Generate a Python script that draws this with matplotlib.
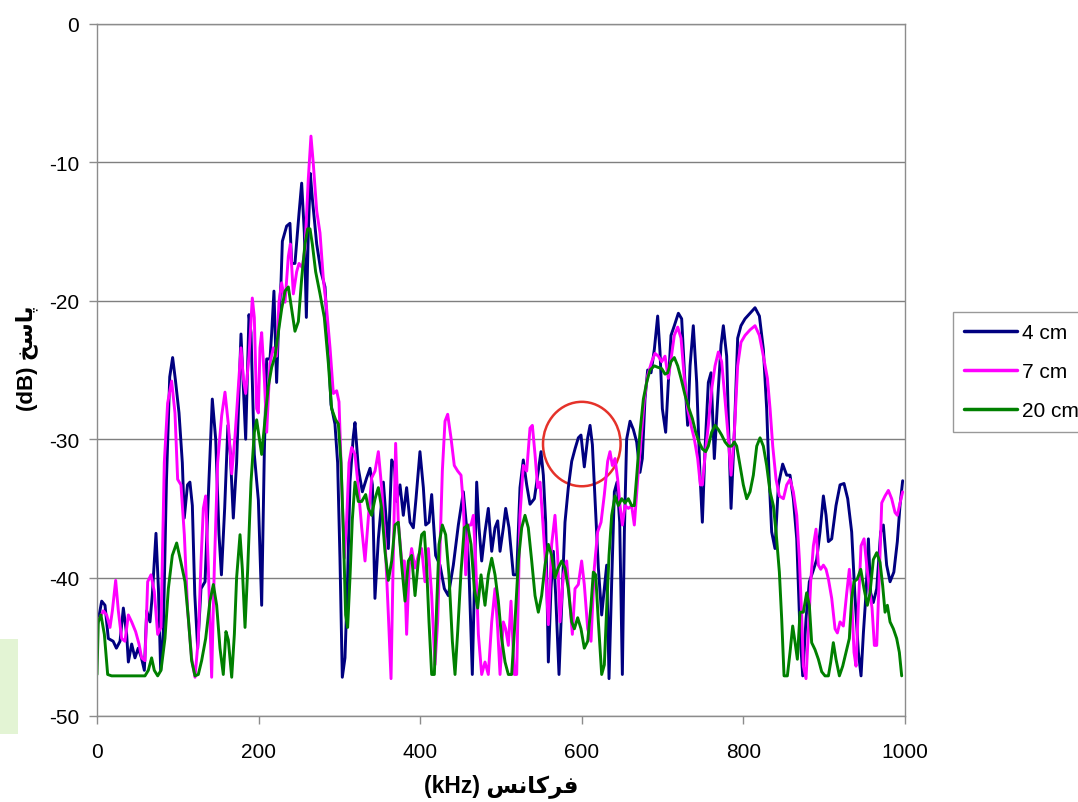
import matplotlib
matplotlib.use('Agg')
import matplotlib.pyplot as plt
from matplotlib.patches import Ellipse, Rectangle

plt.rcParams['font.family'] = ['Liberation Sans', 'DejaVu Sans']
plt.rcParams['axes.unicode_minus'] = False

# frequency (kHz) / response (dB) for each distance
freq_4cm = [0, 5.8, 9.9, 14, 20, 24, 28.5, 32.6, 36.7, 38.8, 42.9, 47, 51, 55, 58.6, 61.5, 65.6, 68.5, 73, 76,
            78.8, 82, 86, 90, 93.6, 97, 101.5, 105.6, 108, 112, 115, 118, 121, 124.6, 128.7, 133.7, 138.6, 142.7,
            146.9, 151, 154, 158, 162, 165, 168.7, 172.8, 178.2, 181.1, 184, 188.1, 190.6, 194.7, 199.7, 203.8,
            207.1, 210, 214.1, 216.2, 219, 222.3, 224.4, 227.7, 229.4, 234.7, 238.8, 240.9, 245, 250, 253.3,
            256.6, 259.1, 261.5, 264, 266.5, 271.9, 277.2, 282.2, 286.3, 289.6, 294.5, 297.8, 300.7, 303.6,
            306.9, 310.2, 313.1, 317.2, 319.3, 323.4, 328.4, 333.7, 337.9, 340.8, 344, 348.2, 354.4, 360.6,
            364.7, 368, 370.9, 375, 379.1, 383.2, 387.4, 391.5, 394.8, 399.7, 403.9, 406.8, 410.9, 414.2, 419.1,
            424.5, 429.9, 434.8, 441, 447.2, 453.4, 457.5, 460.4, 464.5, 467, 469.9, 472.8, 476.1, 480.2, 484.3,
            488.5, 492.6, 495.9, 498.8, 502.9, 505.8, 509.9, 515.3, 519.4, 523.5, 527.6, 531.8, 535.9, 541.3,
            545.4, 549.5, 552.4, 555.3, 558.6, 561.9, 564.8, 567.7, 571.8, 575.1, 579.2, 583.3, 587.5, 591.6,
            595.7, 599, 603.1, 607.3, 610.2, 613.1, 616.3, 620.5, 624.6, 627.9, 630.8, 633.7, 637, 640.3, 643.6,
            646.9, 650.2, 652.7, 655.5, 659.7, 663.8, 667.9, 672, 674.9, 678.2, 681.5, 685.7, 689.8, 693.9,
            696.8, 699.7, 703.8, 707.1, 710.4, 714.5, 719.5, 723.6, 727.7, 731, 734, 738, 742.2, 746.3, 749.2,
            752.5, 756.6, 759.9, 764, 768.2, 772.3, 775.2, 779.3, 782.2, 784.7, 788.8, 792.9, 797, 802, 808.2,
            814.4, 819.8, 824.7, 828.8, 832.1, 835, 839.1, 843.3, 848.6, 853.6, 857.7, 861.8, 866, 870.1, 873.4,
            877.5, 881.6, 885.8, 890.7, 894.8, 899, 902.3, 905.2, 909.3, 914.6, 919.6, 924.5, 929.1, 934, 938.2,
            942.3, 945.6, 948.5, 951.8, 954.7, 957.5, 960.8, 965, 969.9, 973.2, 977.3, 981.5, 986.2, 990.5,
            993.8, 997.1]
resp_4cm = [-43.6, -41.7, -42.0, -44.4, -44.6, -45.1, -44.6, -42.2, -44.1, -46.1, -44.8, -45.8, -45.1, -45.8,
            -46.7, -42.4, -43.2, -41.2, -36.8, -40.8, -46.7, -44.1, -32.9, -25.5, -24.1, -25.7, -28.1, -31.7,
            -35.7, -33.3, -33.1, -34.8, -41.2, -45.1, -40.8, -40.3, -32.9, -27.1, -30, -36.9, -39.8, -35, -29,
            -31, -35.7, -31.7, -22.4, -26.2, -30, -21, -22.3, -31.1, -34.4, -42, -30.9, -24.2, -24.2, -22.3,
            -19.3, -25.9, -22.3, -18.7, -15.7, -14.6, -14.4, -17.3, -17.3, -13.7, -11.5, -15.1, -21.2, -15.1,
            -10.8, -12.6, -15.9, -17.9, -19, -23.4, -27.5, -28.9, -31.7, -38.6, -47.2, -45.8, -40, -33.1, -29.8,
            -28.8, -32.1, -33.8, -32.8, -32.1, -33.3, -41.5, -37.2, -33.1, -37.9, -31.5, -31.9, -34.5, -33.3,
            -35.5, -33.5, -36, -36.4, -34.3, -30.9, -33.5, -36.2, -36, -34, -38.4, -39.1, -40.8, -41.3, -39.1,
            -36.2, -33.8, -36.4, -39.6, -47, -40.8, -33.1, -36.4, -38.8, -36.7, -35, -38.1, -36.4, -35.9, -38.1,
            -36.4, -35, -36.4, -39.8, -39.8, -33.5, -31.5, -33.3, -34.7, -34.3, -32.6, -30.9, -32.6, -36, -46.1,
            -40.8, -38.1, -41.3, -47, -42, -36, -33.5, -31.6, -30.7, -29.9, -29.7, -32, -29.9, -29, -30.4, -34.3,
            -39.3, -42.7, -40.8, -39.1, -47.3, -40.3, -33.8, -33.1, -36, -47, -36.7, -30, -28.7, -29.3, -30.2,
            -32.4, -31.4, -27.1, -25, -25.2, -23.5, -21.1, -23.7, -27.8, -29.5, -25.9, -22.5, -21.8, -20.9,
            -21.3, -25.9, -29, -24.7, -21.8, -25.9, -32.6, -36, -30.7, -25.9, -25.2, -31.4, -27.1, -23.2, -21.8,
            -24, -30.2, -35, -29.5, -22.7, -21.8, -21.3, -20.9, -20.5, -21.1, -23.5, -27.8, -33.1, -36.7, -37.9,
            -33.3, -31.8, -32.6, -32.6, -34.3, -37.2, -44, -47.1, -43, -40.3, -39.6, -38.7, -36.7, -34.1, -35.5,
            -37.4, -37.2, -34.8, -33.3, -33.2, -34.3, -36.7, -41.5, -45.4, -47.1, -44, -41.1, -37.2, -41.1,
            -41.8, -40.8, -36.7, -36.2, -39.1, -40.3, -39.6, -37.4, -34.8, -33]

freq_7cm = [0, 3.7, 7.8, 11.9, 16.1, 19, 23.1, 26.4, 30.5, 34.6, 38.8, 42.9, 47.8, 52, 55.3, 59.4, 62.7, 66.8,
            70.9, 75.1, 79.2, 83.3, 87.4, 92.4, 96.5, 99.8, 103.9, 108.1, 112.2, 117.1, 121.3, 125.4, 128.7,
            131.6, 134.5, 137.8, 141.9, 145.2, 149.3, 154.3, 158.4, 162.5, 166.7, 170.8, 174.9, 178.2, 181.1,
            184, 188.1, 192.2, 194.7, 197.6, 199.7, 201.7, 203.8, 207.1, 210, 214.1, 218.2, 222.3, 225.2, 228.5,
            232.7, 236.8, 239.3, 243, 247.1, 250, 254.1, 257.4, 261.5, 264.8, 267.7, 271.9, 276, 280.1, 284.2,
            288.4, 292.5, 296.6, 299.5, 302.8, 306.1, 309, 311.9, 315.2, 319.3, 323.4, 327.6, 331.7, 335.8,
            339.9, 344.1, 348.2, 352.3, 356.4, 360.6, 363.9, 366.7, 369.6, 372.9, 377.1, 380.4, 383.2, 386.5,
            389.4, 393.6, 397.7, 401.8, 405.9, 410.1, 414.2, 418.3, 421.6, 424.5, 427.4, 430.7, 434, 438.1,
            442.2, 446.4, 450.5, 453.4, 456.3, 459.6, 462.9, 465.8, 468.6, 472, 476.1, 480.2, 484.3, 488.5,
            492.6, 495.9, 498.8, 502.9, 505.8, 509.1, 512.4, 516.5, 519.4, 523.5, 527.6, 531.8, 535.9, 538.8,
            542.1, 545.4, 548.3, 551.2, 554.5, 558.6, 562.7, 566.8, 570.1, 573, 577.2, 581.3, 585.4, 588.3,
            591.6, 595.7, 599.8, 603.1, 607.3, 611.4, 615.5, 619.6, 623.8, 627.9, 632, 634.9, 637.8, 641.1,
            644.4, 647.3, 650.2, 653.5, 657.6, 661.7, 665, 669.2, 673.3, 677.4, 681.5, 686.5, 690.6, 694.7,
            698.9, 703, 707.1, 710.4, 714.5, 718.7, 722.8, 726.9, 731, 735.2, 739.3, 743.4, 746.7, 749.2, 752.5,
            756.6, 760.7, 764.9, 769, 773.1, 777.2, 781.4, 784.7, 788.8, 792.9, 797, 802, 808.2, 814.4, 819.8,
            824.7, 829.7, 833, 836.3, 840.4, 844.5, 849.5, 853.6, 857.7, 861.8, 866, 869.3, 872.1, 874.2, 877.5,
            880.4, 883.3, 886.6, 889.9, 892.8, 895.7, 899, 902.3, 905.2, 909.3, 913.4, 916.3, 919.6, 923.7,
            927.9, 931.1, 934, 936.9, 939.4, 942.3, 945.6, 949.3, 952.6, 955.9, 959.2, 962.1, 965, 967.9, 971.2,
            975.3, 979.4, 983.5, 987.7, 990.5, 993.9, 997.1]
resp_7cm = [-43.2, -42.9, -42.4, -42.7, -43.6, -42.4, -40.2, -42.4, -44.4, -44.6, -42.7, -43.2, -43.9, -44.8,
            -45.8, -46, -40.3, -39.8, -41, -44.1, -43.6, -31.7, -27.4, -25.8, -28.1, -32.9, -33.3, -36.9, -42.4,
            -45.8, -47.2, -44.4, -38.9, -35, -34.1, -39.3, -47.2, -39.3, -31.7, -28.3, -26.6, -28.9, -32.5,
            -29.8, -26.2, -23.4, -25.6, -26.7, -24, -19.8, -21.2, -27.8, -28.1, -23.4, -22.3, -25.6, -29.5,
            -24.5, -23.4, -24, -20.1, -18.7, -20.1, -16.8, -15.9, -19.5, -17.9, -17.3, -17.6, -16.2, -11.2,
            -8.1, -10.1, -13.5, -15.1, -18.4, -20.6, -23.4, -26.7, -26.5, -27.3, -33.1, -38.6, -35.8, -31.7,
            -30.6, -31.1, -33.5, -36.4, -38.8, -35.7, -32.8, -32.3, -30.9, -33.5, -37.2, -42.7, -47.3, -38.4,
            -30.3, -36, -38.8, -38.8, -44.1, -39.1, -37.9, -39.3, -38.4, -37.9, -40.3, -37.9, -41.3, -46.3,
            -43.2, -37.9, -32.3, -28.7, -28.2, -29.9, -31.9, -32.3, -32.6, -34.7, -39.8, -36.2, -36.2, -35.5,
            -38.8, -44.1, -47, -46.1, -47, -43.2, -40.8, -43.7, -47, -43.2, -43.7, -44.9, -41.7, -47, -47,
            -35.5, -31.9, -32.3, -29.2, -29, -31.1, -33.5, -33.1, -35.5, -38.4, -43.4, -37.6, -35.5, -38.4,
            -43.2, -39.8, -38.8, -42, -44.1, -40.8, -40.5, -38.8, -40.5, -43.7, -44.6, -39.3, -36.7, -36, -34,
            -31.6, -30.9, -31.9, -31.4, -32.9, -34.8, -36.2, -34.8, -35, -34.8, -36.2, -32.9, -30, -27.1, -25.4,
            -24.4, -23.8, -24, -24.4, -24, -25.6, -24.2, -22.5, -21.9, -22.7, -25.6, -27.8, -29, -30, -31.4,
            -33.3, -33.3, -31.2, -29, -26.4, -24.7, -23.7, -24.4, -27.1, -30, -32.6, -29.5, -24.7, -23, -22.5,
            -22.1, -21.8, -22.5, -24, -25.6, -27.8, -30.5, -32.9, -34.1, -34.3, -33.3, -32.9, -33.8, -35.5,
            -38.7, -42.7, -46.4, -47.3, -44, -40.3, -37.7, -36.5, -39.1, -39.4, -39.1, -39.4, -40.1, -41.5,
            -43.7, -44, -43.2, -43.5, -41.1, -39.4, -41.5, -45.4, -46.4, -42, -37.7, -37.2, -39.1, -40.8, -42.2,
            -44.9, -44.9, -40.3, -34.6, -34.1, -33.7, -34.3, -35.3, -35.5, -34.6, -33.8]

freq_20cm = [0, 1.6, 4.9, 9.1, 13.2, 18.1, 38.8, 59.4, 63.5, 67.6, 70.9, 75.1, 79.2, 84.1, 88.3, 93.2, 98.6,
             103.9, 108.9, 113, 117.1, 121.3, 125.4, 129.5, 134.5, 139.8, 144, 148.1, 152.2, 156.3, 159.6,
             162.5, 166.7, 170, 172.8, 177, 179.9, 183.2, 186.5, 190.6, 194.7, 197.6, 200.5, 203.8, 207.9, 212,
             216.2, 220.3, 224.4, 228.5, 232.7, 236.8, 240.9, 245, 249.2, 253.3, 257.4, 260.7, 263.6, 266.5,
             270.6, 276, 281.3, 286.3, 290.4, 295.4, 298.7, 302, 304.9, 307.7, 310.2, 313.1, 316, 319.3, 323.4,
             327.6, 332.5, 335.8, 339.9, 344.1, 348.2, 352.3, 356.4, 360.6, 364.7, 368.8, 372.9, 377.1, 381.2,
             385.3, 389.4, 393.6, 397.7, 401.8, 405.1, 408, 410.9, 414.2, 417.5, 420.4, 423.3, 427.4, 431.5,
             435.6, 439.8, 443.1, 446.4, 450.5, 454.6, 458.7, 462.9, 467, 471.1, 475.3, 480.2, 484.3, 488.5,
             492.6, 496.7, 500.8, 505, 509.1, 513.2, 517.3, 521.5, 525.6, 529.7, 533.8, 538, 542.1, 546.2,
             550.3, 554.5, 558.6, 562.7, 566.8, 570.9, 575.1, 579.2, 583.3, 587.5, 590.8, 594.9, 599, 603.1,
             607.3, 611.4, 614.3, 617.2, 620.5, 624.6, 627.9, 630.8, 633.7, 637, 641.1, 645.2, 649.4, 653.5,
             657.6, 661.7, 665, 668.3, 672, 676.2, 680.3, 684.4, 689.8, 693.9, 698.9, 703, 706.3, 710.4, 714.5,
             718.7, 722.8, 727.7, 732.7, 736.8, 741, 745, 749.2, 753.3, 756.6, 760.7, 764.9, 769, 773.1, 777.3,
             781.4, 785.5, 788.8, 791.7, 795.8, 799.9, 804.1, 808.2, 812.3, 816.5, 820.6, 824.7, 828.8, 833,
             837.1, 840.4, 844.5, 847.4, 850.3, 854.4, 857.7, 861, 864, 866.8, 870.1, 874.2, 878.3, 881.6, 884.5,
             888.6, 892.8, 896.9, 901, 905.2, 908.1, 911.3, 914.6, 918.8, 922.9, 927, 931.1, 934, 936.9, 941,
             945.2, 949.3, 953.4, 956.7, 960.8, 965, 969.1, 972.4, 975.3, 978.2, 981.5, 985.6, 989.7, 993,
             995.9]
resp_20cm = [-47, -43.2, -42.7, -44.1, -47, -47.1, -47.1, -47.1, -46.7, -45.8, -46.7, -47.1, -46.7, -44.4, -40.8,
             -38.4, -37.5, -38.9, -40.3, -42.9, -46, -47.1, -47, -46, -44.4, -41.7, -40.5, -42, -45.1, -47,
             -43.9, -44.5, -47.2, -44.1, -40, -36.9, -39.4, -43.6, -39.4, -33.1, -29.5, -28.6, -29.8, -31.1,
             -28.6, -26.2, -24.8, -24, -22.3, -20.6, -19.3, -19, -20.6, -22.2, -21.5, -18.4, -15.9, -14.8,
             -14.8, -15.9, -17.9, -19.5, -21.2, -24.5, -27.8, -28.6, -28.9, -31.7, -36.7, -42.7, -43.6, -40,
             -35.8, -33.1, -34.5, -34.5, -34, -35, -35.5, -34.3, -33.5, -35, -38.1, -40.2, -38.8, -36.2, -36,
             -39.1, -41.7, -38.8, -38.4, -41.3, -38.8, -36.9, -36.7, -39.3, -43.2, -47, -47, -42, -37.6, -36.2,
             -36.9, -39.8, -44.6, -47, -43.9, -39.6, -36.4, -36.2, -37.6, -40.8, -42.2, -39.8, -42, -39.8, -38.6,
             -39.8, -41.7, -44.4, -46.1, -47, -47, -43.2, -38.8, -36.4, -35.5, -36.4, -38.8, -41.3, -42.5, -41.3,
             -39.1, -37.6, -38.4, -40, -39.3, -38.8, -39.3, -40.8, -43.2, -43.7, -42.9, -43.7, -45.1, -44.6, -42,
             -39.6, -39.8, -43.2, -47, -46.3, -42.2, -38.4, -35.5, -34.1, -34.8, -34.3, -34.6, -34.3, -34.8,
             -34.8, -32.4, -29.5, -27.1, -25.9, -25, -24.7, -24.8, -24.9, -25.3, -25.2, -24.4, -24.1, -24.7,
             -25.6, -26.8, -27.8, -28.5, -29.5, -30.2, -30.7, -30.9, -30.5, -29.5, -29, -29.3, -29.7, -30.2,
             -30.5, -30.5, -30.2, -30.5, -31.9, -33.3, -34.3, -33.8, -32.6, -30.5, -29.9, -30.5, -31.9, -33.8,
             -34.8, -36.7, -39.6, -43, -47.1, -47.1, -45.4, -43.5, -44.7, -45.9, -42.5, -42.5, -41.1, -42,
             -44.7, -45.2, -45.9, -46.8, -47.1, -47.1, -46.1, -44.7, -45.9, -47.1, -46.4, -45.4, -44.4, -41.5,
             -40.3, -40.1, -39.4, -40.8, -42, -41.1, -38.7, -38.2, -38.9, -40.6, -42.5, -42, -43.2, -43.7,
             -44.4, -45.4, -47.1]

series_labels = ['4 cm', '7 cm', '20 cm']
series_colors = ['#000080', '#FF00FF', '#008000']

# Persian titles, glyphs already joined and laid out left to right
ylabel_text = '(dB) ' + '\ufea6\ufeb3\ufe8e\ufb58'
xlabel_text = '(kHz) ' + '\ufeb2\ufee7\ufe8e\ufb90\ufeae\ufed3'

W, H = 1078, 803
fig = plt.figure(figsize=(W / 100, H / 100), dpi=100)
fig.patch.set_facecolor('white')
fig.patches.append(Rectangle((0, 1 - 735 / H), 18 / W, 95 / H, transform=fig.transFigure,
                             facecolor='#e3f4d4', edgecolor='none'))

ax = fig.add_axes([97 / W, 1 - 717 / H, 808 / W, 692 / H])
for fx, ry, lab, col in zip([freq_4cm, freq_7cm, freq_20cm], [resp_4cm, resp_7cm, resp_20cm],
                            series_labels, series_colors):
    ax.plot(fx, ry, color=col, lw=2.1, label=lab, solid_joinstyle='round', solid_capstyle='round')

ax.add_patch(Ellipse((600, -30.35), 96, 6.1, fill=False, edgecolor='#E5322A', lw=1.8))

ax.set_xlim(0, 1000)
ax.set_ylim(-50, 0)
ax.set_xticks(range(0, 1001, 200))
ax.set_yticks(range(-50, 1, 10))
ax.grid(axis='y', color='#7f7f7f', lw=1.0)
ax.set_axisbelow(True)
for sp in ax.spines.values():
    sp.set_color('#8c8c8c')
    sp.set_linewidth(1.0)
ax.tick_params(direction='out', length=6, width=1, color='#8c8c8c', labelsize=15)
ax.tick_params(axis='x', pad=13)
ax.tick_params(axis='y', pad=7)

fig.text(27 / W, 1 - 358 / H, ylabel_text, rotation=90, ha='center', va='center',
         fontsize=16, fontweight='bold')
fig.text(501 / W, 1 - 786 / H, xlabel_text, ha='center', va='center',
         fontsize=16.5, fontweight='bold')

leg = ax.legend(loc='upper left', bbox_to_anchor=(953 / W, 1 - 313 / H), bbox_transform=fig.transFigure,
                fontsize=15, frameon=True, fancybox=False, edgecolor='#808080', borderpad=0.55,
                handlelength=2.5, handletextpad=0.25, labelspacing=0.95, borderaxespad=0)
leg.get_frame().set_linewidth(1.0)
for line in leg.get_lines():
    line.set_linewidth(2.5)

fig.savefig('out.png', dpi=100)
